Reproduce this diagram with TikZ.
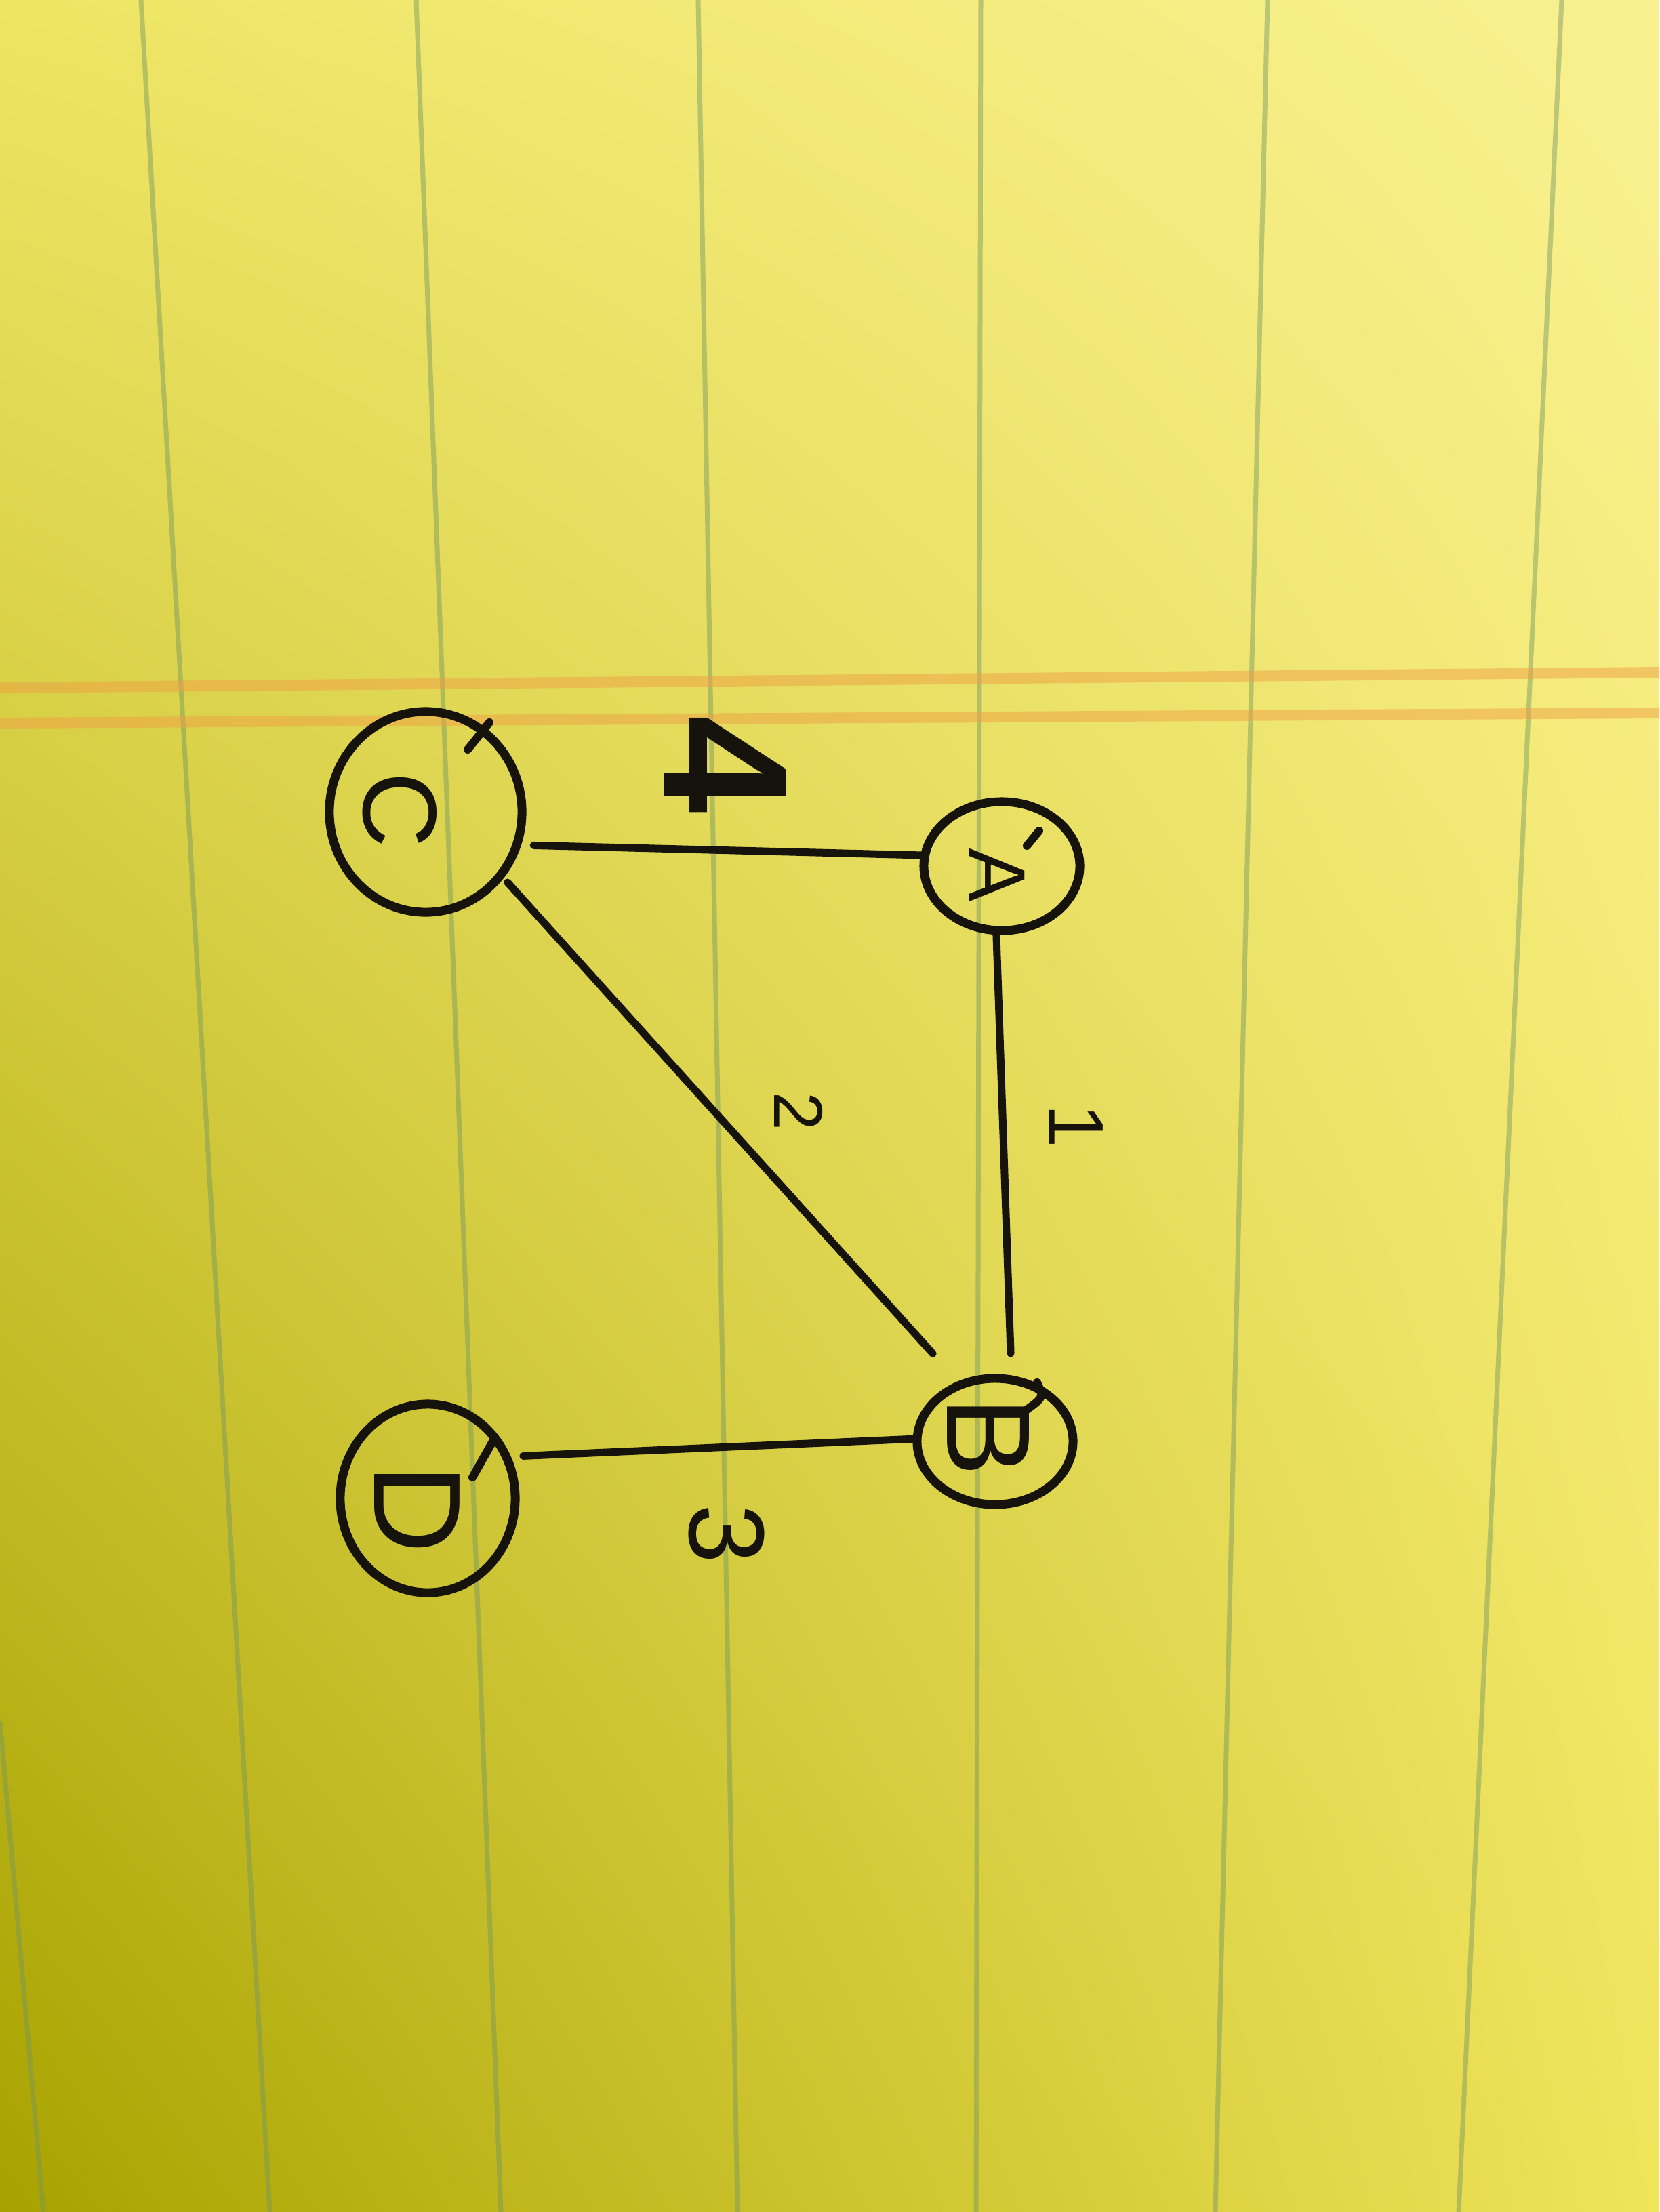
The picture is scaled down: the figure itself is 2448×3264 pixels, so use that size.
\documentclass[tikz,border=0pt]{standalone}
\usepackage{fontspec}
\setmainfont{Liberation Sans}
\setsansfont{Liberation Sans}
\usetikzlibrary{shapes.geometric,shadings}
\definecolor{ink}{RGB}{22,18,12}
\definecolor{rulecol}{RGB}{115,150,95}
\definecolor{margincol}{RGB}{240,160,70}
\definecolor{paperUL}{RGB}{238,229,100}
\definecolor{paperUR}{RGB}{249,241,145}
\definecolor{paperLL}{RGB}{168,162,0}
\definecolor{paperLR}{RGB}{240,228,90}
\begin{document}
\begin{tikzpicture}[x=0.01cm,y=-0.01cm,
  vtx/.style={ellipse, draw=ink, line width=0.13cm, inner sep=0pt, outer sep=0pt},
  edge/.style={draw=ink, line width=0.11cm, line cap=round},
  pen/.style={draw=ink, line width=0.12cm, line cap=round},
  lbl/.style={text=ink, rotate=-90, inner sep=0pt},
  ruled/.style={draw=rulecol, line width=0.07cm, opacity=0.45},
  margin/.style={draw=margincol, line width=0.16cm, opacity=0.5}]
\useasboundingbox (0,0) rectangle (2448,3264);
% paper
\shade[upper left=paperUL, upper right=paperUR, lower left=paperLL, lower right=paperLR] (0,0) rectangle (2448,3264);
% ruled lines
\draw[ruled] (208,0) -- (398,3264);
\draw[ruled] (614,0) -- (739,3264);
\draw[ruled] (1030,0) -- (1088,3264);
\draw[ruled] (1447,0) -- (1440,3264);
\draw[ruled] (1870,0) -- (1793,3264);
\draw[ruled] (2304,0) -- (2152,3264);
\draw[ruled] (0,2540) -- (64,3264);
% margin lines
\draw[margin] (0,1015) -- (2448,992);
\draw[margin] (0,1067) -- (2448,1052);
% vertices
\node[vtx, minimum width=2.84cm, minimum height=2.96cm] (C) at (628,1198) {};
\node[vtx, minimum width=2.30cm, minimum height=1.90cm] (A) at (1478,1278) {};
\node[vtx, minimum width=2.30cm, minimum height=1.86cm] (B) at (1468,2127) {};
\node[vtx, minimum width=2.58cm, minimum height=2.78cm] (D) at (631,2211) {};
% pen closures
\draw[pen] (722,1066) -- (690,1106);
\draw[pen] (1515,1248) -- (1533,1226);
\draw[pen] (1512,2082) .. controls (1540,2062) .. (1530,2040);
\draw[pen] (697,2180) -- (728,2125);
% vertex labels
\node[lbl, font=\fontsize{44}{44}\selectfont] (lC) at (590,1195) {C};
\node[lbl, font=\fontsize{34}{34}\selectfont] (lA) at (1471,1291) {A};
\node[lbl, font=\fontsize{50}{50}\selectfont] (lB) at (1458,2120) {B};
\node[lbl, font=\fontsize{52}{52}\selectfont] (lD) at (615,2227) {D};
% edges
\draw[edge, shorten <=0.25cm] (C.-20) -- (A.172);
\draw[edge, shorten >=0.39cm] (A.-95) -- (B.75);
\draw[edge, shorten <=0.15cm, shorten >=0.62cm] (C.-40) -- (B.121);
\draw[edge, shorten <=0.25cm] (D.28) -- (B.178);
% edge weights
\node[lbl, font=\bfseries\fontsize{74}{74}\selectfont] (w4) at (1070,1128) {4};
\node[lbl, font=\fontsize{29}{29}\selectfont] (w2) at (1178,1640) {2};
\node[lbl, font=\fontsize{33}{33}\selectfont] (w1) at (1587,1662) {1};
\node[lbl, font=\fontsize{45}{45}\selectfont] (w3) at (1072,2263) {3};
\end{tikzpicture}
\end{document}
